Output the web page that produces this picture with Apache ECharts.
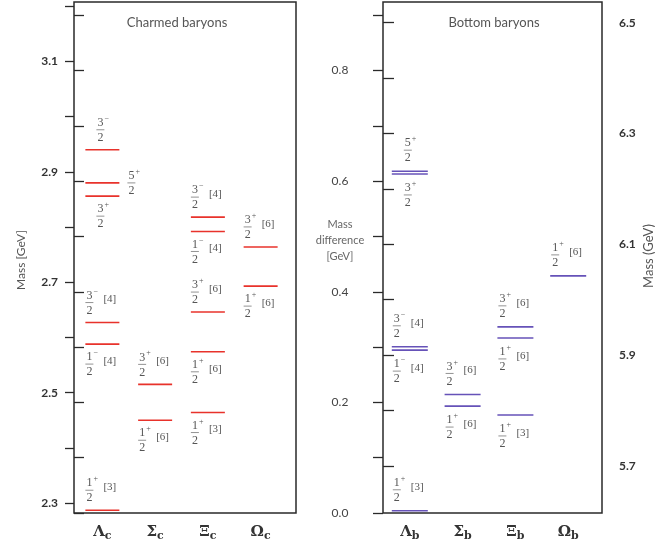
<!DOCTYPE html>
<html>
<head>
<meta charset="utf-8">
<script src="https://cdn.jsdelivr.net/npm/echarts@6/dist/echarts.min.js"></script>
<style>html,body{margin:0;padding:0;background:#fff}#c{width:672px;height:546px}</style>
</head>
<body>
<div id="c"></div>
<script>
// ---- data ----
const charmCategories = ['Λ', 'Σ', 'Ξ', 'Ω'];
const bottomCategories = ['Λ', 'Σ', 'Ξ', 'Ω'];
const charmFlavour = 'c';
const bottomFlavour = 'b';
// [category index, mass (GeV), J, parity, SU(3) multiplet]
const charmLevels = [
  [0, 2.287, '1/2', '+', 3],
  [0, 2.588, '1/2', '−', 4],
  [0, 2.627, '3/2', '−', 4],
  [0, 2.856, '3/2', '+', null],
  [0, 2.880, '5/2', '+', null],
  [0, 2.940, '3/2', '−', null],
  [1, 2.450, '1/2', '+', 6],
  [1, 2.515, '3/2', '+', 6],
  [2, 2.464, '1/2', '+', 3],
  [2, 2.574, '1/2', '+', 6],
  [2, 2.646, '3/2', '+', 6],
  [2, 2.792, '1/2', '−', 4],
  [2, 2.818, '3/2', '−', 4],
  [3, 2.693, '1/2', '+', 6],
  [3, 2.764, '3/2', '+', 6]
];
const bottomLevels = [
  [0, 5.619, '1/2', '+', 3],
  [0, 5.909, '1/2', '−', 4],
  [0, 5.915, '3/2', '−', 4],
  [0, 6.227, '3/2', '+', null],
  [0, 6.232, '5/2', '+', null],
  [1, 5.808, '1/2', '+', 6],
  [1, 5.829, '3/2', '+', 6],
  [2, 5.792, '1/2', '+', 3],
  [2, 5.931, '1/2', '+', 6],
  [2, 5.951, '3/2', '+', 6],
  [3, 6.043, '1/2', '+', 6]
];
// label placement relative to each level line
const charmLabelSide = ['above','below','above','below','right','above','below','above','below','below','above','below','above','below','above'];
const bottomLabelSide = ['above','below','above','below','above','below','above','below','below','above','above'];
const charmMassAxis = {min: 2.2, max: 3.3, interval: 0.1};
const bottomMassAxis = {min: 5.7, max: 6.6, interval: 0.1};
const diffAxis = {min: 0, max: 1.0, interval: 0.1};

// ---- chart ----
const chart = echarts.init(document.getElementById('c'), null, {renderer: 'canvas'});
const serif = 'Liberation Serif';
const sans = 'Lato';

function makeRender(levels, sides, color, half, gap) {
  return function (params, api) {
    const i = api.value(2);
    const p = api.coord([api.value(0), api.value(1)]);
    const row = levels[i];
    const parts = row[2].split('/');
    const parity = row[3], mult = row[4];
    const side = sides[i];
    const hasBr = mult !== null && mult !== undefined;
    const children = [{
      type: 'line',
      shape: {x1: p[0] - half, y1: p[1], x2: p[0] + half, y2: p[1]},
      style: {stroke: color, lineWidth: 1.6}
    }];
    let fx, cy;
    if (side === 'right') { fx = p[0] + half + 12; cy = p[1]; }
    else {
      fx = hasBr ? p[0] - 13 : p[0] - 2;
      cy = side === 'above' ? p[1] - gap : p[1] + gap;
    }
    const txt = (t, x, y, size, align) => ({
      type: 'text', x: x, y: y,
      style: {text: t, fontSize: size, fontFamily: serif, fill: '#555', align: align || 'center', verticalAlign: 'middle'}
    });
    children.push(txt(parts[0], fx, cy - 7, 12));
    children.push({type: 'line', shape: {x1: fx - 4, y1: cy, x2: fx + 4, y2: cy}, style: {stroke: '#777', lineWidth: 0.8}});
    children.push(txt(parts[1], fx, cy + 8, 12));
    children.push(txt(parity, fx + 4, cy - 11, 8, 'left'));
    if (hasBr) children.push(txt('[' + mult + ']', fx + 14, cy - 3, 11, 'left'));
    return {type: 'group', children: children};
  };
}

const catLabel = (flav) => ({
  margin: 9,
  interval: 0,
  formatter: (v) => '{g|' + v + '}{s|' + flav + '}',
  rich: {
    g: {fontFamily: 'DejaVu Serif', fontWeight: 'bold', fontSize: 15, lineHeight: 20, color: '#333'},
    s: {fontFamily: 'DejaVu Serif', fontWeight: 'bold', fontSize: 11, lineHeight: 12, verticalAlign: 'bottom', color: '#333'}
  }
});
const oddLabel = (v) => (Math.round(v * 10) % 2 === 1 ? v.toFixed(1) : '');
const evenLabel = (v) => (Math.round(v * 10) % 2 === 0 ? v.toFixed(1) : '');
const hiddenAxis = (g) => ({gridIndex: g, type: 'value', show: false, min: 0, max: 1});

const option = {
  backgroundColor: '#fff',
  animation: false,
  grid: [
    {left: 74, top: 2, width: 222, height: 511, show: true, borderColor: '#2a2a2a', borderWidth: 1.5, backgroundColor: 'transparent', outerBoundsMode: 'none'},
    {left: 76, top: -48.94, width: 211, height: 607.2, outerBoundsMode: 'none'},
    {left: 74, top: -40, width: 222, height: 553, outerBoundsMode: 'none'},
    {left: 383, top: 2, width: 219, height: 511, show: true, borderColor: '#2a2a2a', borderWidth: 1.5, backgroundColor: 'transparent', outerBoundsMode: 'none'},
    {left: 383.4, top: -32.69, width: 211.2, height: 609.4, outerBoundsMode: 'none'},
    {left: 383, top: -40, width: 219, height: 553, outerBoundsMode: 'none'},
    {left: 383, top: -32.69, width: 219, height: 498.6, outerBoundsMode: 'none'}
  ],
  xAxis: [
    hiddenAxis(0),
    {gridIndex: 1, type: 'category', data: charmCategories, offset: -45.26, boundaryGap: true,
      axisLine: {show: false}, axisTick: {show: false}, splitLine: {show: false}, axisLabel: catLabel(charmFlavour)},
    hiddenAxis(2),
    hiddenAxis(3),
    {gridIndex: 4, type: 'category', data: bottomCategories, offset: -63.71, boundaryGap: true,
      axisLine: {show: false}, axisTick: {show: false}, splitLine: {show: false}, axisLabel: catLabel(bottomFlavour)},
    hiddenAxis(5),
    hiddenAxis(6)
  ],
  yAxis: [
    hiddenAxis(0),
    {gridIndex: 1, type: 'value', position: 'left', offset: 2,
      min: charmMassAxis.min, max: charmMassAxis.max, interval: charmMassAxis.interval,
      axisLine: {show: false}, splitLine: {show: false},
      axisTick: {show: true, inside: false, length: 9, lineStyle: {color: '#2a2a2a', width: 1.3}},
      axisLabel: {margin: 16, formatter: oddLabel, fontFamily: sans, fontWeight: 'bold', fontSize: 12, color: '#333'}},
    {gridIndex: 2, type: 'value', position: 'right',
      min: diffAxis.min, max: diffAxis.max, interval: diffAxis.interval,
      axisLine: {show: false}, splitLine: {show: false},
      axisTick: {show: true, inside: false, length: 10, lineStyle: {color: '#2a2a2a', width: 1.3}},
      axisLabel: {show: false}},
    hiddenAxis(3),
    {gridIndex: 4, type: 'value', show: false, min: 5.5, max: 6.6},
    {gridIndex: 5, type: 'value', position: 'left',
      min: diffAxis.min, max: diffAxis.max, interval: diffAxis.interval,
      axisLine: {show: false}, splitLine: {show: false},
      axisTick: {show: true, inside: false, length: 10, lineStyle: {color: '#2a2a2a', width: 1.3}},
      axisLabel: {margin: 43, align: 'center', formatter: evenLabel, fontFamily: sans, fontSize: 12, color: '#444'}},
    {gridIndex: 6, type: 'value', position: 'right',
      min: bottomMassAxis.min, max: bottomMassAxis.max, interval: bottomMassAxis.interval,
      axisLine: {show: false}, splitLine: {show: false},
      axisTick: {show: true, inside: false, length: 11, lineStyle: {color: '#2a2a2a', width: 1.3}},
      axisLabel: {margin: 17, formatter: oddLabel, fontFamily: sans, fontWeight: 'bold', fontSize: 12, color: '#333'}}
  ],
  graphic: [
    {type: 'text', x: 177, y: 23, silent: true, style: {text: 'Charmed baryons', fontFamily: sans, fontSize: 13, fill: '#555', align: 'center', verticalAlign: 'middle'}},
    {type: 'text', x: 494, y: 23, silent: true, style: {text: 'Bottom baryons', fontFamily: sans, fontSize: 13, fill: '#555', align: 'center', verticalAlign: 'middle'}},
    {type: 'text', x: 21, y: 260, rotation: Math.PI / 2, silent: true, style: {text: 'Mass [GeV]', fontFamily: sans, fontSize: 12, fill: '#555', align: 'center', verticalAlign: 'middle'}},
    {type: 'text', x: 649, y: 256, rotation: Math.PI / 2, silent: true, style: {text: 'Mass (GeV)', fontFamily: sans, fontSize: 13, fill: '#555', align: 'center', verticalAlign: 'middle'}},
    {type: 'text', x: 340, y: 240, silent: true, style: {text: 'Mass\ndifference\n[GeV]', fontFamily: sans, fontSize: 11, lineHeight: 16, fill: '#666', align: 'center', verticalAlign: 'middle'}}
  ],
  series: [
    {type: 'custom', xAxisIndex: 1, yAxisIndex: 1, silent: true, clip: false,
      encode: {x: 0, y: 1},
      renderItem: makeRender(charmLevels, charmLabelSide, '#e8322b', 17, 20),
      data: charmLevels.map((r, i) => [r[0], r[1], i])},
    {type: 'custom', xAxisIndex: 4, yAxisIndex: 4, silent: true, clip: false,
      encode: {x: 0, y: 1},
      renderItem: makeRender(bottomLevels, bottomLabelSide, '#6652b8', 18, 21),
      data: bottomLevels.map((r, i) => [r[0], r[1], i])}
  ]
};
chart.setOption(option);
</script>
</body>
</html>
